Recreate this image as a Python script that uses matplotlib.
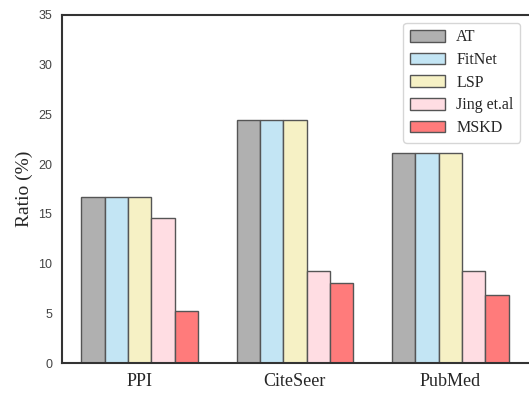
import numpy as np
import matplotlib
matplotlib.use("Agg")
import matplotlib.pyplot as plt
import seaborn as sns

datasets = ["PPI", "CiteSeer", "PubMed"]
methods = ["AT", "FitNet", "LSP", "Jing et.al", "MSKD"]
at = [16.7, 24.4, 21.1]
fitnet = [16.7, 24.4, 21.1]
lsp = [16.7, 24.4, 21.1]
jing = [14.6, 9.3, 9.3]
mskd = [5.2, 8.1, 6.8]
colors = ["#b0b0b0", "#c3e5f4", "#f6f1c5", "#ffdde3", "#ff7b7b"]

sns.set_style("white")

fig = plt.figure(figsize=(5.29, 3.93), dpi=100)
ax = fig.add_axes([0.117, 0.076, 0.881, 0.886])

x = np.arange(len(datasets))
w = 0.15
series = [at, fitnet, lsp, jing, mskd]
for i, (vals, name) in enumerate(zip(series, methods)):
    ax.bar(x + (i - 2) * w, vals, w, color=colors[i], edgecolor="#555555",
           linewidth=1, label=name)

ax.set_xlim(-0.5, 2.5)
ax.set_ylim(0, 35)
ax.set_yticks(range(0, 36, 5))
ax.set_xticks(x)
ax.set_xticklabels(datasets, fontfamily="Liberation Serif", fontsize=13, color="#262626")
for t in ax.get_yticklabels():
    t.set_fontfamily("Liberation Sans")
    t.set_fontsize(9)
    t.set_color("#444444")
ax.set_ylabel("Ratio (%)", fontfamily="Liberation Serif", fontsize=14, color="#262626")
for s in ax.spines.values():
    s.set_color("#333333")
    s.set_linewidth(1.5)
ax.spines["right"].set_visible(False)

leg = ax.legend(loc="upper right", prop={"family": "Liberation Serif", "size": 11.5},
                frameon=True, handlelength=2.2, handleheight=0.75,
                labelspacing=0.42, handletextpad=0.7, borderaxespad=0.5)
leg.get_frame().set_edgecolor("#cccccc")

fig.savefig("out.png", dpi=100)
